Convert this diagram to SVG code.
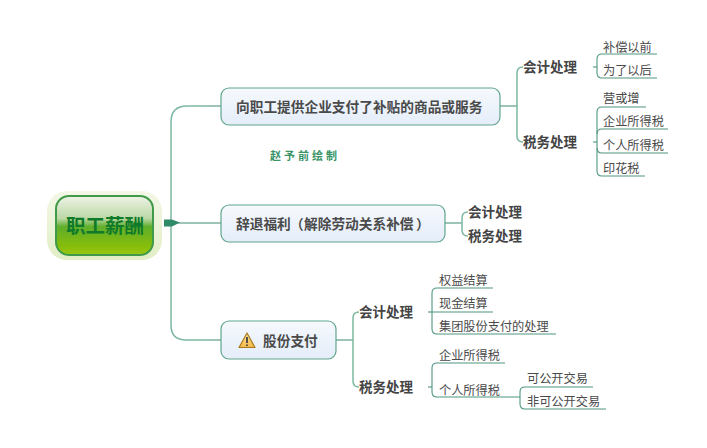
<svg xmlns="http://www.w3.org/2000/svg" width="707" height="448" viewBox="0 0 707 448">
<style>
text{font-family:"Noto Sans CJK SC","Noto Sans",sans-serif;fill:#444}
.b{fill:none;stroke:#7db8a0;stroke-width:1.500}
.s{fill:none;stroke:#3f8a70;stroke-width:1.100}
.u{fill:none;stroke:#4f9680;stroke-width:1.100}
.n{fill:url(#ng);stroke:#5fa58c;stroke-width:1.200}
.t1{font-size:13.700px;font-weight:700;fill:#4a4a4a}
.t2{font-size:13.500px;font-weight:700;fill:#444}
.l{font-size:12.200px;fill:#4a4a4a}
</style>
<defs>
<linearGradient id="ng" x1="0" y1="0" x2="0" y2="1"><stop offset="0" stop-color="#f6f9fd"/><stop offset="1" stop-color="#e4edf9"/></linearGradient>
<linearGradient id="rg" x1="0" y1="0" x2="0" y2="1"><stop offset="0" stop-color="#eef3e6"/><stop offset=".38" stop-color="#bcd8a6"/><stop offset=".52" stop-color="#5fae2c"/><stop offset=".85" stop-color="#86bd0a"/><stop offset="1" stop-color="#9ac814"/></linearGradient>
<linearGradient id="hg" x1="0" y1="0" x2="0" y2="1"><stop offset="0" stop-color="#f3f7e6"/><stop offset="1" stop-color="#e2eec6"/></linearGradient>
<linearGradient id="wg" x1="0" y1="0" x2="0" y2="1"><stop offset="0" stop-color="#fde29a"/><stop offset="1" stop-color="#f5b748"/></linearGradient>
</defs>
<g id="connectors">
<path class="b" d="M171 222V122Q171 106 187 106H206M171 222V325Q171 340 186 340H206"/>
<path d="M164 219.500H172L180 222.500L172 226.500H164Z" fill="#2f8a68"/>
<path class="s" d="M176 223H221M206 106H221M206 340H221"/>
<path class="s" d="M500 106H517M445 223H462M336 340H353"/>
<path class="b" d="M523 67Q517 67 517 73V136Q517 142 523 142"/>
<path class="b" d="M468 212Q462 212 462 218V230Q462 236 468 236"/>
<path class="b" d="M359 312Q353 312 353 318V381Q353 387 359 387"/>
<path class="s" d="M593 67H597M593 142H597M428 312H432M428 387H432"/>
<path class="u" d="M657 54H602Q597 54 597 59V73Q597 78 602 78H657"/>
<path class="u" d="M646 107H602Q597 107 597 112V171Q597 176 602 176H645"/>
<path class="u" d="M597 134Q597 129 602 129H668M597 148Q597 153 602 153H668"/>
<path class="u" d="M493 288H437Q432 288 432 293V329Q432 334 437 334H556M432 312H493"/>
<path class="u" d="M505 363H437Q432 363 432 368V392Q432 397 437 397H520"/>
<path class="u" d="M593 387H525Q520 387 520 392V404Q520 409 525 409H606"/>
</g>
<g id="root">
<rect x="47" y="191" width="115" height="69" rx="20" fill="url(#hg)"/>
<rect x="56" y="196" width="97" height="59" rx="13" fill="url(#rg)" stroke="#3f9a4a" stroke-width="2"/>
<text x="105" y="233" text-anchor="middle" font-size="19.500" font-weight="700" style="fill:#0f7a2a">职工薪酬</text>
</g>
<g id="node-1">
<rect class="n" x="221" y="88" width="279" height="37" rx="8"/>
<text class="t1" x="236" y="112">向职工提供企业支付了补贴的商品或服务</text>
</g>
<g id="node-2">
<rect class="n" x="221" y="205" width="224" height="37" rx="8"/>
<text class="t1" x="236" y="229">辞退福利<tspan x="290">（</tspan><tspan x="304">解除劳动关系补偿</tspan><tspan x="416">）</tspan></text>
</g>
<g id="node-3">
<rect class="n" x="221" y="321" width="115" height="38" rx="8"/>
<path d="M247 333L255 347.500H239Z" fill="url(#wg)" stroke="#a87a20" stroke-width="1.200" stroke-linejoin="round"/>
<path d="M247 337V343M247 344.500V346" stroke="#444" stroke-width="1.800" fill="none"/>
<text class="t1" x="263" y="346">股份支付</text>
</g>
<g id="n1a"><text class="t2" x="523" y="72">会计处理</text></g>
<g id="n1b"><text class="t2" x="523" y="147">税务处理</text></g>
<g id="n2a"><text class="t2" x="468" y="217">会计处理</text></g>
<g id="n2b"><text class="t2" x="468" y="241">税务处理</text></g>
<g id="n3a"><text class="t2" x="359" y="317">会计处理</text></g>
<g id="n3b"><text class="t2" x="359" y="392">税务处理</text></g>
<g id="leaf-1"><text class="l" x="603" y="52">补偿以前</text></g>
<g id="leaf-2"><text class="l" x="603" y="75">为了以后</text></g>
<g id="leaf-3"><text class="l" x="603" y="103">营或增</text></g>
<g id="leaf-4"><text class="l" x="603" y="126">企业所得税</text></g>
<g id="leaf-5"><text class="l" x="603" y="150">个人所得税</text></g>
<g id="leaf-6"><text class="l" x="603" y="173">印花税</text></g>
<g id="leaf-7"><text class="l" x="439" y="285">权益结算</text></g>
<g id="leaf-8"><text class="l" x="439" y="308">现金结算</text></g>
<g id="leaf-9"><text class="l" x="439" y="331">集团股份支付的处理</text></g>
<g id="leaf-10"><text class="l" x="439" y="360">企业所得税</text></g>
<g id="leaf-11"><text class="l" x="439" y="395">个人所得税</text></g>
<g id="leaf-12"><text class="l" x="527" y="383">可公开交易</text></g>
<g id="leaf-13"><text class="l" x="527" y="406">非可公开交易</text></g>
<g id="note"><text x="270" y="160" font-size="11" font-weight="700" letter-spacing="3" style="fill:#3a9468">赵予前绘制</text></g>
</svg>
